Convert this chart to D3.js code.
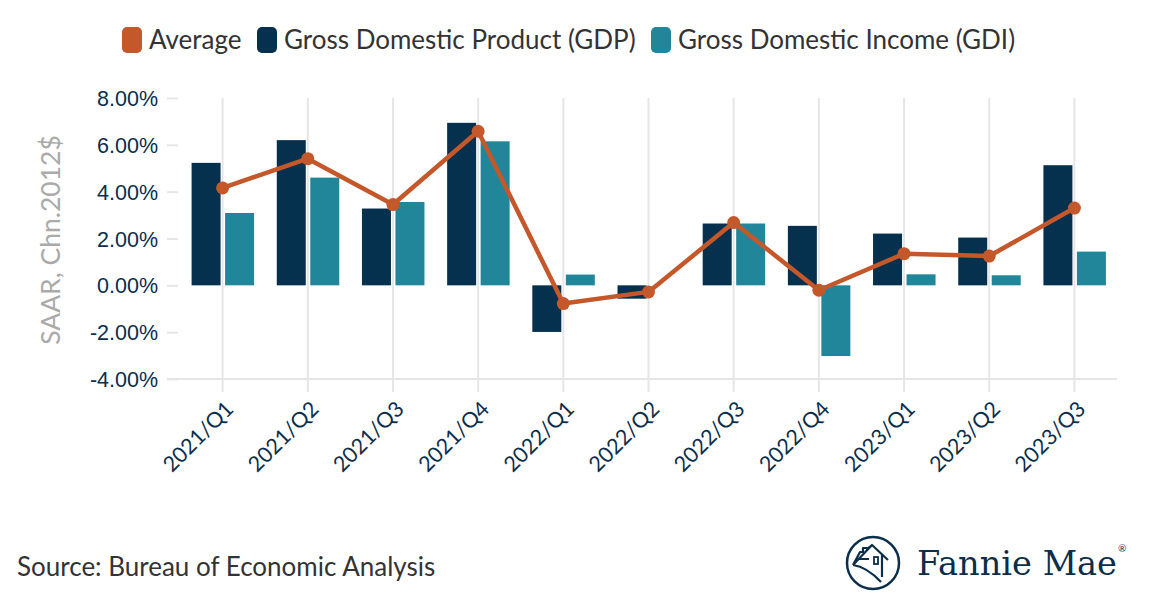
<!DOCTYPE html>
<html><head><meta charset="utf-8">
<script src="https://cdn.jsdelivr.net/npm/d3@7"></script>
<style>
html,body{margin:0;padding:0;background:#fff;}
svg{display:block;font-family:Lato, "Noto Sans", sans-serif;}
</style></head>
<body>
<svg id="chart" width="1156" height="594"></svg>
<script>
const categories = ["2021/Q1","2021/Q2","2021/Q3","2021/Q4","2022/Q1","2022/Q2","2022/Q3","2022/Q4","2023/Q1","2023/Q2","2023/Q3"];
const gdpValues = [5.23, 6.2, 3.28, 6.94, -1.99, -0.57, 2.64, 2.54, 2.21, 2.04, 5.13];
const gdiValues = [3.09, 4.6, 3.56, 6.15, 0.46, 0.0, 2.64, -3.02, 0.47, 0.43, 1.44];
const avgValues = [4.16, 5.41, 3.45, 6.58, -0.78, -0.28, 2.68, -0.21, 1.35, 1.25, 3.3];
const yTicks = [-4, -2, 0, 2, 4, 6, 8];
const seriesNames = ["Average", "Gross Domestic Product (GDP)", "Gross Domestic Income (GDI)"];

const C_AVG = "#C4582A", C_GDP = "#06314E", C_GDI = "#22869A", NAVY = "#0B2E4A";
const svg = d3.select("#chart");

const x = d3.scaleBand().domain(categories).range([180, 1117]);
const y = d3.scaleLinear().domain([-4, 8]).range([379, 98]);
const cx = c => x(c) + x.bandwidth() / 2;

// vertical grid lines + ticks below
svg.append("g").selectAll("line").data(categories).join("line")
  .attr("x1", cx).attr("x2", cx).attr("y1", y(8)).attr("y2", y(-4) + 13)
  .attr("stroke", "#E6E6E6").attr("stroke-width", 2);

// bottom axis line
svg.append("line").attr("x1", 167).attr("x2", 1117).attr("y1", y(-4)).attr("y2", y(-4))
  .attr("stroke", "#E6E6E6").attr("stroke-width", 2);

// y axis
const yAxis = d3.axisLeft(y).tickValues(yTicks).tickSize(11).tickPadding(9)
  .tickFormat(d => d.toFixed(2) + "%");
const gy = svg.append("g").attr("transform", "translate(178,0)").call(yAxis);
gy.select(".domain").remove();
gy.selectAll(".tick line").attr("stroke", "#E6E6E6").attr("stroke-width", 2);
gy.selectAll(".tick text").attr("fill", NAVY).style("font-size", "21.5px").attr("dy", "0.35em");

// y label
svg.append("text").attr("transform", "translate(60,240) rotate(-90)")
  .attr("text-anchor", "middle").attr("fill", "#AAAAAA").style("font-size", "26.5px")
  .text("SAAR, Chn.2012$");

// bars
const bw = 29;
svg.append("g").selectAll("rect").data(categories).join("rect")
  .attr("x", (c) => cx(c) - 31).attr("width", bw)
  .attr("y", (c, i) => y(Math.max(0, gdpValues[i])))
  .attr("height", (c, i) => Math.abs(y(gdpValues[i]) - y(0)))
  .attr("fill", C_GDP);
svg.append("g").selectAll("rect").data(categories).join("rect")
  .attr("x", (c) => cx(c) + 2.5).attr("width", bw)
  .attr("y", (c, i) => y(Math.max(0, gdiValues[i])))
  .attr("height", (c, i) => Math.abs(y(gdiValues[i]) - y(0)))
  .attr("fill", C_GDI);

// average line
const line = d3.line().x((d, i) => cx(categories[i])).y(d => y(d));
svg.append("path").datum(avgValues).attr("d", line)
  .attr("fill", "none").attr("stroke", C_AVG).attr("stroke-width", 4.5).attr("stroke-linejoin", "round");
svg.append("g").selectAll("circle").data(avgValues).join("circle")
  .attr("cx", (d, i) => cx(categories[i])).attr("cy", d => y(d)).attr("r", 6.5).attr("fill", C_AVG);

// x labels
svg.append("g").selectAll("text").data(categories).join("text")
  .attr("transform", c => `translate(${cx(c) + 7},${y(-4) + 26}) rotate(-45)`)
  .attr("text-anchor", "end").attr("dy", "0.35em")
  .attr("fill", NAVY).style("font-size", "21.5px").text(c => c);

// legend
const legColors = [C_AVG, C_GDP, C_GDI];
const legX = [122, 257, 651];
const lg = svg.append("g");
seriesNames.forEach((n, i) => {
  lg.append("rect").attr("x", legX[i]).attr("y", 27).attr("width", 20).attr("height", 26)
    .attr("rx", 5).attr("fill", legColors[i]);
  lg.append("text").attr("x", legX[i] + 27).attr("y", 40).attr("dy", "0.35em")
    .attr("fill", "#333").style("font-size", "26px").text(n);
});

// source
svg.append("text").attr("x", 17).attr("y", 576).attr("fill", "#333").style("font-size", "26px")
  .text("Source: Bureau of Economic Analysis");

// logo
const logo = svg.append("g").attr("transform", "translate(873,563)");
logo.append("circle").attr("r", 26).attr("fill", "none").attr("stroke", NAVY).attr("stroke-width", 2.5);
logo.append("path")
  .attr("d", "M-20,2 L-13,-11 L-10,-11 L-10,-15 L-6,-15 L-6,-14 L-1,-18 L15,-3 M-20,2 Q-6,4 8,19 M9,-8 L9,14 M-20,2 L-1,-18 M-16,-4 L-4,-4")
  .attr("fill", "none").attr("stroke", NAVY).attr("stroke-width", 2.2).attr("stroke-linejoin", "round");
logo.append("rect").attr("x", 1).attr("y", -6).attr("width", 4).attr("height", 7)
  .attr("fill", "none").attr("stroke", NAVY).attr("stroke-width", 1.8);
svg.append("text").attr("x", 917).attr("y", 575).attr("fill", NAVY)
  .style("font-family", "'DejaVu Serif', 'Liberation Serif', serif").style("font-size", "34px")
  .attr("textLength", 200).attr("lengthAdjust", "spacingAndGlyphs")
  .text("Fannie Mae");
svg.append("text").attr("x", 1118).attr("y", 552).attr("fill", NAVY).style("font-size", "10px").text("®");
</script>
</body></html>
